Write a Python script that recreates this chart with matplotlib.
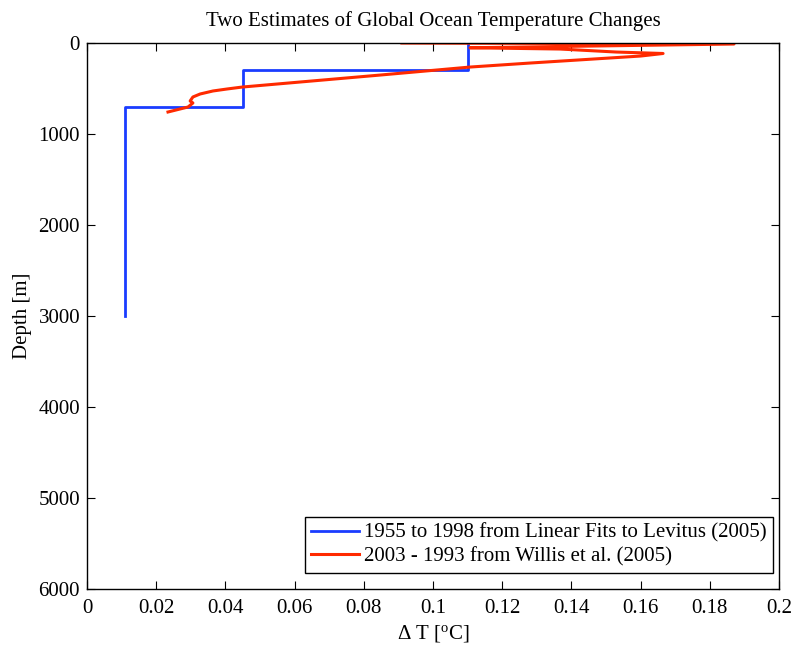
import matplotlib
matplotlib.use("Agg")
import matplotlib.pyplot as plt

plt.rcParams['font.family'] = ['Liberation Serif', 'DejaVu Serif']
plt.rcParams['mathtext.fontset'] = 'custom'
plt.rcParams['mathtext.rm'] = 'Liberation Serif'
plt.rcParams['mathtext.it'] = 'Liberation Serif:italic'

# Levitus (2005) layer-mean warming, 1955-1998, drawn as a step profile
levitus_dt = [0.011, 0.011, 0.045, 0.045, 0.110, 0.110]
levitus_depth = [3000, 700, 700, 300, 300, 0]

# Willis et al. (2005) upper-ocean warming profile, 1993-2003
willis_dt = [0.091, 0.187, 0.1107, 0.1367, 0.153, 0.1665, 0.160, 0.128,
             0.1107, 0.0847, 0.0448, 0.0405, 0.0364, 0.0327, 0.0306,
             0.0298, 0.0306, 0.0292, 0.0234]
willis_depth = [0, 11, 52, 66, 99, 115, 143, 220, 264, 352, 484, 505,
                527, 560, 593, 637, 659, 703, 758]

xticks = [0, 0.02, 0.04, 0.06, 0.08, 0.1, 0.12, 0.14, 0.16, 0.18, 0.2]
xtick_labels = ['0', '0.02', '0.04', '0.06', '0.08', '0.1', '0.12', '0.14',
                '0.16', '0.18', '0.2']
yticks = [0, 1000, 2000, 3000, 4000, 5000, 6000]

fig = plt.figure(figsize=(7.97, 6.49), dpi=100)
ax = fig.add_axes([0.1092, 0.0925, 0.8682, 0.8412])

ax.plot(levitus_dt, levitus_depth, color='#1a3cff', lw=2,
        label='1955 to 1998 from Linear Fits to Levitus (2005)')
ax.plot(willis_dt, willis_depth, color='#ff2a00', lw=2.2,
        label='2003 - 1993 from Willis et al. (2005)')

ax.set_xlim(0, 0.2)
ax.set_ylim(6000, 0)
ax.set_xticks(xticks)
ax.set_xticklabels(xtick_labels)
ax.set_yticks(yticks)
ax.tick_params(direction='in', top=True, right=True, labelsize=15,
               length=6, width=0.8)
ax.tick_params(axis='x', pad=7)
ax.tick_params(axis='y', pad=5)
for s in ax.spines.values():
    s.set_linewidth(1.0)

ax.set_title('Two Estimates of Global Ocean Temperature Changes',
             fontsize=15, pad=12)
ax.set_xlabel(r'$\Delta$ T [$^{\rm o}$C]', fontsize=15, labelpad=4)
ax.set_ylabel('Depth [m]', fontsize=15, labelpad=5)

leg = ax.legend(loc='lower right', bbox_to_anchor=(1 - 6 / 692, 16 / 546),
                fontsize=15, frameon=True, fancybox=False,
                edgecolor='black', framealpha=1, borderpad=0.3,
                handlelength=2.3, handletextpad=0.25, labelspacing=0.2,
                borderaxespad=0.0)
leg.get_frame().set_linewidth(1.0)

fig.savefig('out.png', dpi=100)
